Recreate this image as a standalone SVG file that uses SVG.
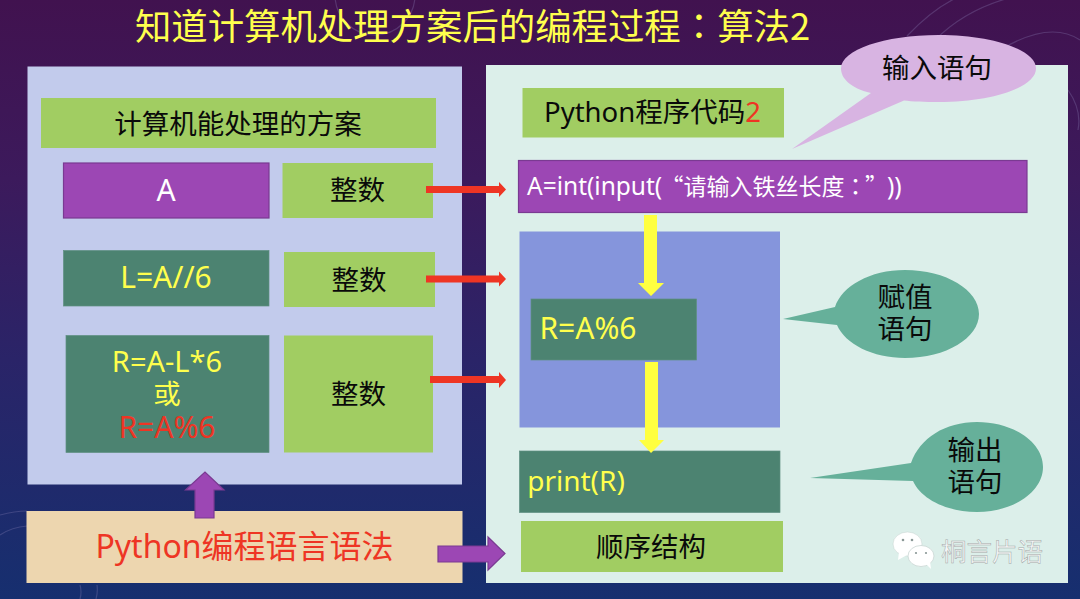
<svg xmlns="http://www.w3.org/2000/svg" width="1080" height="599" viewBox="0 0 1080 599">
<style>
text{font-family:"Noto Sans","Noto Sans CJK SC",sans-serif;text-anchor:middle}
.cjk{font-family:"Noto Sans CJK SC","Noto Sans",sans-serif}
.tc{font-family:"Noto Sans CJK TC","Noto Sans",sans-serif}
.k{fill:#0a0a0a}.y{fill:#ffff4d}.r{fill:#ee3524}.w{fill:#fff}
.gr{fill:#a1cd62}.tl{fill:#4c8371;stroke:#5f8f82;stroke-width:.7}
.pu{fill:#9c47b4;stroke:#7a3a92;stroke-width:1.2}
.red{fill:#ee3524}.yel{fill:#ffff40}
.deco{fill:none;stroke:#8f86b8;stroke-opacity:.3;stroke-width:1.2}
</style>
<defs>
<linearGradient id="bg" x1="0" y1="0" x2="0" y2="1">
<stop offset="0" stop-color="#41124f"/><stop offset=".3" stop-color="#3c1a5c"/><stop offset=".6" stop-color="#2a2468"/><stop offset="1" stop-color="#162f6f"/>
</linearGradient>
</defs>
<rect width="1080" height="599" fill="url(#bg)"/>
<g id="decor">
<circle class="deco" cx="375" cy="-5" r="40"/>
<path class="deco" d="M907 36Q960 -20 1010 -10M935 40Q975 0 1040 -8M1000 50Q1050 20 1080 40"/>
<path class="deco" d="M1068 90Q1082 110 1078 130M0 515Q15 511 27 511M0 535Q12 527 27 526M80 585Q82 592 80 599M97 585Q98 592 96 599"/>
</g>
<text id="title" class="cjk y" x="472.500" y="40" font-size="36.400">知道计算机处理方案后的编程过程<tspan class="tc">：</tspan>算法2</text>
<g id="panel-left"><rect x="27.500" y="66.500" width="434.500" height="418" fill="#c2cbec"/></g>
<g id="panel-right"><rect x="486" y="65" width="582" height="518" fill="#dcefea"/></g>
<g id="panel-syntax"><rect x="26.500" y="511" width="436" height="72" fill="#edd6af"/>
<text class="r" x="244.500" y="558" font-size="32">Python编程语言语法</text></g>
<g id="header-left"><rect class="gr" x="41" y="98" width="395" height="50"/>
<text class="k" x="238" y="134" font-size="27.500">计算机能处理的方案</text></g>
<g id="var-a"><rect class="pu" x="63.500" y="163" width="205.500" height="55"/>
<text class="w" x="166" y="201" font-size="30">A</text></g>
<g id="type-a"><rect class="gr" x="282.500" y="163" width="150.500" height="55"/>
<text class="k" x="357.500" y="200" font-size="27.500">整数</text></g>
<g id="var-l"><rect class="tl" x="63.500" y="250.500" width="205.500" height="55.500"/>
<text class="y" x="166" y="288" font-size="30">L=A//6</text></g>
<g id="type-l"><rect class="gr" x="284" y="252" width="151" height="55"/>
<text class="k" x="359" y="290" font-size="27.500">整数</text></g>
<g id="var-r"><rect class="tl" x="66" y="335.500" width="203" height="117"/>
<text class="y" x="167" y="372" font-size="29">R=A-L*6</text>
<text class="y" x="167" y="404" font-size="27.500">或</text>
<text class="r" x="167" y="438" font-size="30">R=A%6</text></g>
<g id="type-r"><rect class="gr" x="284" y="335.500" width="149" height="117"/>
<text class="k" x="358.500" y="404" font-size="27.500">整数</text></g>
<g id="header-right"><rect class="gr" x="522.500" y="88" width="261.500" height="49.500"/>
<text class="k" x="652.500" y="122" font-size="27.500">Python程序代码<tspan class="r">2</tspan></text></g>
<g id="input-stmt"><rect class="pu" x="518.500" y="160.500" width="508.500" height="52"/>
<text class="w" y="195" font-size="24.500" style="text-anchor:start"><tspan x="527">A=int(input(</tspan><tspan x="660.500" class="tc" font-size="23">“</tspan><tspan x="683.500" class="cjk" font-size="23">请输入铁丝长度</tspan><tspan x="844" class="tc" font-size="23">：</tspan><tspan x="865" class="tc" font-size="23">”</tspan><tspan x="887">))</tspan></text></g>
<g id="assign-block"><rect x="519.500" y="231.500" width="260.500" height="196" fill="#8595dc"/></g>
<g id="assign-stmt"><rect class="tl" x="531" y="299" width="165.500" height="61"/>
<text class="y" x="588" y="339" font-size="30">R=A%6</text></g>
<g id="print-stmt"><rect class="tl" x="519.500" y="451" width="260.500" height="61.500"/>
<text class="y" x="576" y="491" font-size="28">print(R)</text></g>
<g id="sequence"><rect class="gr" x="521" y="521" width="262" height="51"/>
<text class="k" x="651" y="557" font-size="27.500">顺序结构</text></g>
<g id="callout-input"><path fill="#d8b4e2" d="M792 149L871 93C850 88 841 78 841 68.500C841 50 884 35 938.500 35C993 35 1036 50 1036 68.500C1036 87 993 102 938.500 102C925 102 912 101.500 904 100.500Z"/>
<text class="k" x="937" y="78" font-size="27.500">输入语句</text></g>
<g id="callout-assign"><path fill="#66b09a" d="M783 319L835 307C842 286 870 270 905 270C946 270 979 290 979 314C979 338 946 358 905 358C873 358 845 344 837 325Z"/>
<text class="k" x="905" y="307" font-size="27.500">赋值</text><text class="k" x="905" y="339" font-size="27.500">语句</text></g>
<g id="callout-output"><path fill="#66b09a" d="M810 478L911 463C920 438 945 422 977 422C1013 422 1043 442 1043 467C1043 492 1013 512 977 512C947 512 921 499 913 481Z"/>
<text class="k" x="975" y="460" font-size="27.500">输出</text><text class="k" x="975" y="492" font-size="27.500">语句</text></g>
<g id="connectors">
<path class="red" d="M426 186H499V182L506 189.500L499 197V193H426Z"/>
<path class="red" d="M426 282.500V275.500H499V271.500L506 279L499 286.500V282.500Z"/>
<path class="red" d="M430 383V376H499V372L506 380L499 388V383Z"/>
<path class="yel" d="M644 215H657V283H664L651 296L638 283H644Z"/>
<path class="yel" d="M645 362H658V440H664L651 453L639 440H645Z"/>
<path class="pu" d="M195 518V490H185.500L205 472L224 490H214V518Z"/>
<path class="pu" d="M438 546H488V537L505 553.500L488 570V562H438Z"/>
</g>
<g id="watermark">
<ellipse cx="907.500" cy="544" rx="14.500" ry="12" fill="#fff" stroke="#c9d6d3" stroke-width=".6"/><path d="M899 552L898 560L907 555Z" fill="#fff"/>
<ellipse cx="921" cy="556" rx="13" ry="10.500" fill="#fff" stroke="#c9d6d3" stroke-width=".8"/><path d="M926 564L931 569L930 561Z" fill="#fff"/>
<g fill="#8a9896"><circle cx="903" cy="540" r="1.300"/><circle cx="912" cy="540" r="1.300"/><circle cx="916" cy="553" r="1.100"/><circle cx="926" cy="553" r="1.100"/></g>
<text x="992" y="561" font-size="25.500" class="cjk" fill="#f4f6f6" stroke="#9fa8a6" stroke-width=".5">桐言片语</text>
</g>
</svg>
